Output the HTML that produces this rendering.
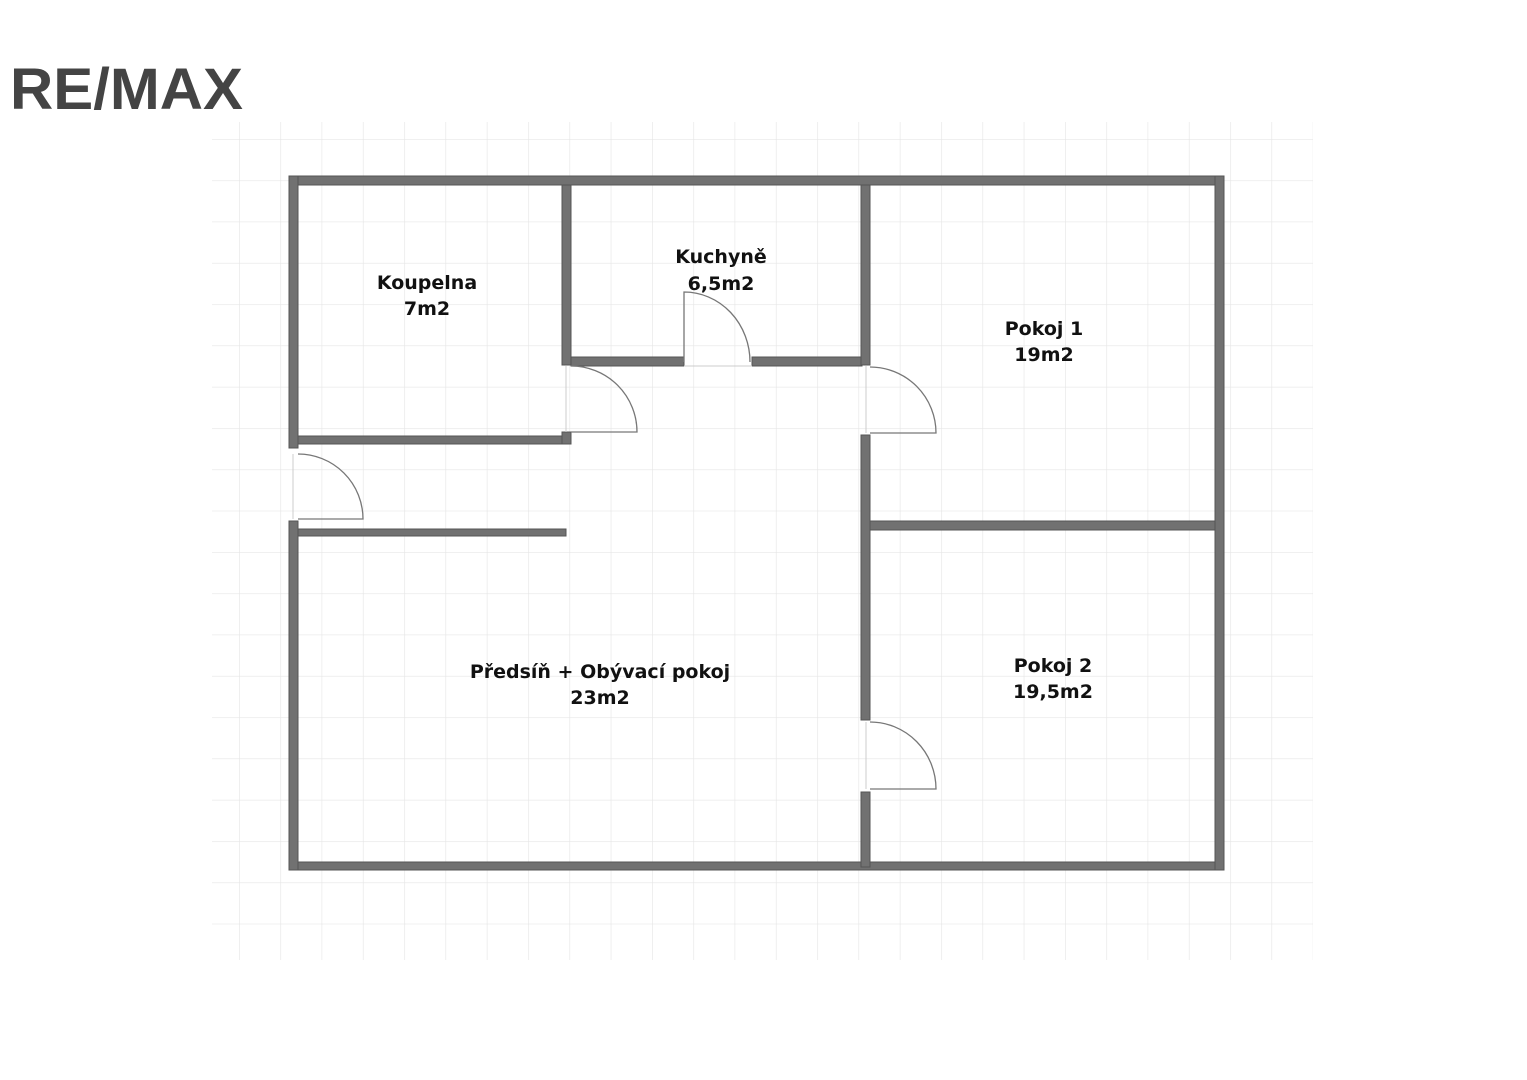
<!DOCTYPE html>
<html><head><style>body{margin:0;background:#fff}svg{display:block}</style></head><body>
<svg width="1527" height="1080" viewBox="0 0 1527 1080" xmlns="http://www.w3.org/2000/svg">
<defs>
<pattern id="g" x="239" y="139" width="41.3" height="41.3" patternUnits="userSpaceOnUse">
<path d="M0 0V41.3M0 0H41.3" stroke="#e6e6e6" stroke-width="1.3" fill="none"/>
</pattern>
</defs>
<rect x="212" y="122" width="1101" height="838" fill="url(#g)"/>
<text x="10" y="109" font-family="Liberation Sans, sans-serif" font-weight="bold" font-size="58" fill="#444" textLength="233" lengthAdjust="spacingAndGlyphs">RE/MAX</text>
<g fill="#717171" stroke="#555" stroke-width="1">
<rect x="289" y="176" width="935" height="9"/>
<rect x="289" y="862" width="935" height="8"/>
<rect x="1215" y="176" width="9" height="694"/>
<rect x="289" y="176" width="9" height="272"/>
<rect x="289" y="521" width="9" height="349"/>
<rect x="562" y="185" width="9" height="180"/>
<rect x="571" y="357" width="113" height="9"/>
<rect x="752" y="357" width="110" height="9"/>
<rect x="861" y="185" width="9" height="180"/>
<rect x="861" y="435" width="9" height="285"/>
<rect x="861" y="792" width="9" height="75"/>
<rect x="298" y="436" width="273" height="8"/>
<rect x="562" y="432" width="9" height="12"/>
<rect x="298" y="529" width="268" height="7"/>
<rect x="870" y="521" width="345" height="9"/>
</g>
<g fill="none" stroke="#777" stroke-width="1.3">
<path d="M571 432H637A66 66 0 0 0 571 366"/>
<path d="M684 362V292A66 70 0 0 1 750 362"/>
<path d="M870 433H936A66 66 0 0 0 870 367"/>
<path d="M298 519H363A65 65 0 0 0 298 454"/>
<path d="M870 789H936A66 67 0 0 0 870 722"/>
</g>
<g fill="none" stroke="#ccc" stroke-width="1">
<path d="M566 366V432M684 366H752M866 366V433M293 454V519M866 722V789"/>
</g>
<g font-family="DejaVu Sans, sans-serif" font-weight="bold" font-size="19" fill="#111" text-anchor="middle">
<text x="427" y="289">Koupelna</text><text x="427" y="315">7m2</text>
<text x="721" y="263">Kuchyně</text><text x="721" y="290">6,5m2</text>
<text x="1044" y="335">Pokoj 1</text><text x="1044" y="361">19m2</text>
<text x="600" y="678">Předsíň + Obývací pokoj</text><text x="600" y="704">23m2</text>
<text x="1053" y="672">Pokoj 2</text><text x="1053" y="698">19,5m2</text>
</g>
</svg>
</body></html>
